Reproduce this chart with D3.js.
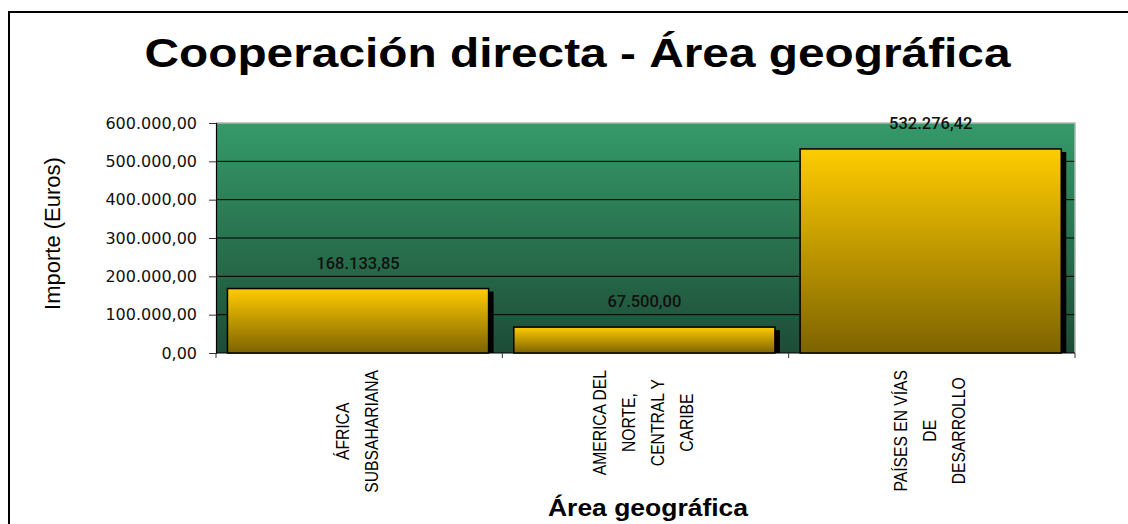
<!DOCTYPE html>
<html><head><meta charset="utf-8">
<script src="https://cdn.jsdelivr.net/npm/d3@7"></script>
<style>body{margin:0;background:#fff}svg{display:block}</style>
</head><body><svg id="c" width="1128" height="524"></svg>
<script>
const categories = ["ÁFRICA SUBSAHARIANA", "AMERICA DEL NORTE, CENTRAL Y CARIBE", "PAÍSES EN VÍAS DE DESARROLLO"];
const categoryLines = [["ÁFRICA", "SUBSAHARIANA"], ["AMERICA DEL", "NORTE,", "CENTRAL Y", "CARIBE"], ["PAÍSES EN VÍAS", "DE", "DESARROLLO"]];
const values = [168133.85, 67500.00, 532276.42];
const yTicks = [0, 100000, 200000, 300000, 400000, 500000, 600000];
const title = "Cooperación directa - Área geográfica";
const xTitle = "Área geográfica";
const yTitle = "Importe (Euros)";

const svg = d3.select("#c");
const plot = {left: 216, right: 1075, top: 123, bottom: 353};
const x = d3.scaleBand().domain(categories).range([plot.left, plot.right]).paddingInner(0).paddingOuter(0);
const y = d3.scaleLinear().domain([0, 600000]).range([plot.bottom, plot.top]);
const loc = d3.formatLocale({decimal: ",", thousands: ".", grouping: [3], currency: ["", ""]});
const fmt = loc.format(",.2f");

const defs = svg.append("defs");
const bg = defs.append("linearGradient").attr("id", "bg").attr("x1", 0).attr("y1", 0).attr("x2", 0).attr("y2", 1);
bg.append("stop").attr("offset", "0%").attr("stop-color", "#359a69");
bg.append("stop").attr("offset", "100%").attr("stop-color", "#1d4c36");
const bar = defs.append("linearGradient").attr("id", "bar").attr("x1", 0).attr("y1", 0).attr("x2", 0).attr("y2", 1);
bar.append("stop").attr("offset", "0%").attr("stop-color", "#ffcc00");
bar.append("stop").attr("offset", "100%").attr("stop-color", "#7d6300");

// outer frame
svg.append("rect").attr("x", 9).attr("y", 12).attr("width", 1140).attr("height", 540)
  .attr("fill", "none").attr("stroke", "#000").attr("stroke-width", 2);

// title
svg.append("text").attr("x", 577.5).attr("y", 67).attr("text-anchor", "middle")
  .attr("font-family", "Liberation Sans, Arial, sans-serif").attr("font-weight", "bold").attr("font-size", 41)
  .attr("textLength", 866).attr("lengthAdjust", "spacingAndGlyphs").text(title);

// plot background
svg.append("rect").attr("x", plot.left).attr("y", plot.top).attr("width", plot.right - plot.left)
  .attr("height", plot.bottom - plot.top).attr("fill", "url(#bg)");

// gridlines
svg.append("g").selectAll("line").data(yTicks.filter(t => t > 0 && t < 600000)).join("line")
  .attr("x1", plot.left).attr("x2", plot.right).attr("y1", d => y(d)).attr("y2", d => y(d))
  .attr("stroke", "#000").attr("stroke-width", 1);

// top & right border
svg.append("path").attr("d", `M${plot.left},${y(600000)}H${plot.right}V${plot.bottom}`)
  .attr("fill", "none").attr("stroke", "#b4b4b4").attr("stroke-width", 1.5);

// y axis
const yAxis = svg.append("g").attr("transform", `translate(${plot.left},0)`)
  .call(d3.axisLeft(y).tickValues(yTicks).tickFormat(fmt).tickSize(7).tickPadding(12));
yAxis.select(".domain").attr("stroke", "#000").attr("stroke-width", 1.2);
yAxis.selectAll(".tick line").attr("stroke", "#333");
yAxis.selectAll("text").attr("font-family", "DejaVu Sans, sans-serif").attr("font-size", 16).attr("fill", "#111");

// x axis
const boundaries = categories.map(c => x(c)).concat([x(categories[categories.length - 1]) + x.bandwidth()]);
svg.append("line").attr("x1", plot.left).attr("x2", plot.right).attr("y1", y(0)).attr("y2", y(0))
  .attr("stroke", "#000").attr("stroke-width", 1.2);
svg.append("g").selectAll("line").data(boundaries).join("line")
  .attr("x1", d => d).attr("x2", d => d).attr("y1", y(0)).attr("y2", y(0) + 5)
  .attr("stroke", "#333").attr("stroke-width", 1);

// bars
const bx = c => x(c) + x.bandwidth() * 0.04;
const bw = x.bandwidth() * 0.912;
const gb = svg.append("g");
gb.selectAll("rect.sh").data(values).join("rect").attr("class", "sh")
  .attr("x", (d, i) => bx(categories[i]) + 5).attr("y", d => y(d) + 3)
  .attr("width", bw).attr("height", d => y(0) - y(d) - 3).attr("fill", "#000");
gb.selectAll("rect.b").data(values).join("rect").attr("class", "b")
  .attr("x", (d, i) => bx(categories[i])).attr("y", d => y(d))
  .attr("width", bw).attr("height", d => y(0) - y(d))
  .attr("fill", "url(#bar)").attr("stroke", "#000").attr("stroke-width", 1.5);

// value labels
svg.append("g").selectAll("text").data(values).join("text")
  .attr("x", (d, i) => bx(categories[i]) + bw / 2).attr("y", d => y(d) - 20)
  .attr("text-anchor", "middle").attr("font-family", "Roboto, sans-serif").attr("font-size", 16.5)
  .attr("font-weight", 500).attr("fill", "#111").text(d => fmt(d));

// category labels
categoryLines.forEach((lines, ci) => {
  const cx = x(categories[ci]) + x.bandwidth() / 2 - 2;
  const g = svg.append("g");
  const n = lines.length;
  const sx = 0.87;
  const texts = g.selectAll("text").data(lines).join("text")
    .attr("font-family", "Liberation Sans, Arial, sans-serif").attr("font-size", 18)
    .attr("fill", "#000").attr("text-anchor", "middle").attr("dy", "0.35em").text(d => d);
  let maxLen = 0;
  texts.each(function () { maxLen = Math.max(maxLen, this.getComputedTextLength() * sx); });
  const yc = 370 + maxLen / 2;
  texts.attr("transform", (d, i) => `translate(${cx + (i - (n - 1) / 2) * 29},${yc}) rotate(-90) scale(${sx},1)`);
});

// axis titles
svg.append("text").attr("x", 648).attr("y", 516).attr("text-anchor", "middle")
  .attr("font-family", "Liberation Sans, Arial, sans-serif").attr("font-weight", "bold").attr("font-size", 23)
  .attr("textLength", 200).attr("lengthAdjust", "spacingAndGlyphs").text(xTitle);
svg.append("text").attr("transform", "translate(52,233.5) rotate(-90)").attr("text-anchor", "middle")
  .attr("dy", "0.35em").attr("font-family", "Liberation Sans, Arial, sans-serif").attr("font-size", 22)
  .attr("fill", "#000").text(yTitle);
</script>
</body></html>
